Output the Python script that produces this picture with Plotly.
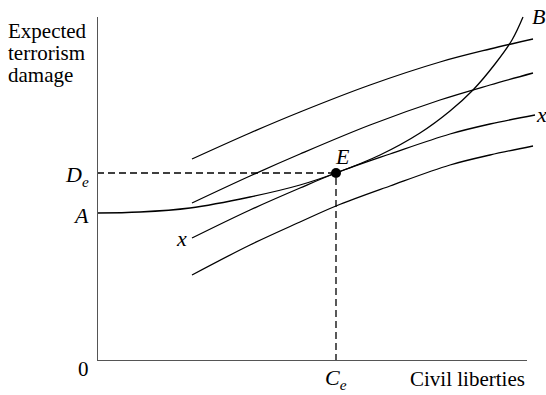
import plotly.graph_objects as go

# ---- data (chart units) ----
ic1_x = [95, 153, 203, 273, 343, 393, 436]
ic1_y = [202, 228, 249, 276, 299, 312, 322]
ic2_x = [95, 153, 203, 273, 343, 393, 436]
ic2_y = [158, 185, 207, 236, 261, 276, 288]
ic3_x = [95, 153, 203, 239, 293, 353, 393, 438]
ic3_y = [123, 151, 173, 188, 207, 227, 237, 246]
ic4_x = [95, 153, 203, 239, 293, 353, 393, 436]
ic4_y = [86, 116, 139, 155, 175, 196, 206, 215]
b_x = [0, 43, 93, 153, 203, 239, 283, 323, 353, 376, 398, 415, 426]
b_y = [148, 149, 153, 164, 176, 188, 206, 228, 250, 271, 297, 321, 344]
eq_x = [239]
eq_y = [188]
x_axis_end = 430
y_axis_end = 344

W, H = 546, 395
ML, MR, MT, MB = 97, 6, 10, 34
PW = W - ML - MR
PH = H - MT - MB

def px(xp, yp):
    return (xp - ML) / PW, (H - MB - yp) / PH

fig = go.Figure()
line = dict(color="black", width=1.3, shape="spline", smoothing=1.0)
for xs, ys in [(ic1_x, ic1_y), (ic2_x, ic2_y), (ic3_x, ic3_y), (ic4_x, ic4_y), (b_x, b_y)]:
    fig.add_trace(go.Scatter(x=xs, y=ys, mode="lines", line=line, hoverinfo="skip"))

# dashed guides
dash = dict(color="black", width=1.3, dash="7px,4px")
fig.add_trace(go.Scatter(x=[0, eq_x[0]], y=[eq_y[0], eq_y[0]], mode="lines", line=dash, hoverinfo="skip"))
fig.add_trace(go.Scatter(x=[eq_x[0], eq_x[0]], y=[0, eq_y[0]], mode="lines", line=dash, hoverinfo="skip"))
fig.add_trace(go.Scatter(x=eq_x, y=eq_y, mode="markers", hoverinfo="skip",
                         marker=dict(color="black", size=10), cliponaxis=False))

# axes as lines
axc = dict(color="#555555", width=2)
fig.add_shape(type="line", x0=0, y0=0, x1=x_axis_end, y1=0, xref="x", yref="y", line=axc)
fig.add_shape(type="line", x0=0, y0=0, x1=0, y1=y_axis_end, xref="x", yref="y", line=axc)

serif = "Liberation Serif"

def ann(text, xp, yp, size=21, xanchor="center"):
    ax_, ay_ = px(xp, yp)
    fig.add_annotation(x=ax_, y=ay_, xref="paper", yref="paper", text=text,
                       showarrow=False, xanchor=xanchor, yanchor="middle",
                       font=dict(family=serif, size=size, color="black"))

ann("Expected", 6, 31, size=21, xanchor="left")
ann("terrorism", 6, 53, size=21, xanchor="left")
ann("damage", 6, 75, size=21, xanchor="left")
ann("Civil liberties", 527, 379, size=21, xanchor="right")
ann("0", 83, 369, size=21)
ann("<i>A</i>", 81, 215, size=22)
ann("<i>D</i><sub><i>e</i></sub>", 91, 176, size=22, xanchor="right")
ann("<i>C</i><sub><i>e</i></sub>", 336, 379, size=22)
ann("<i>E</i>", 342, 156, size=22)
ann("<i>B</i>", 538, 16, size=22)
ann("<i>x</i>", 541, 114, size=22)
ann("<i>x</i>", 181, 238, size=22)

fig.update_layout(
    width=W, height=H,
    margin=dict(l=ML, r=MR, t=MT, b=MB),
    plot_bgcolor="white", paper_bgcolor="white",
    showlegend=False,
    xaxis=dict(range=[0, PW], visible=False, fixedrange=True),
    yaxis=dict(range=[0, PH], visible=False, fixedrange=True),
)
fig.write_html("out.html", config={"displayModeBar": False, "staticPlot": True},
               post_script="document.body.style.margin='0';document.body.style.overflow='hidden';")
